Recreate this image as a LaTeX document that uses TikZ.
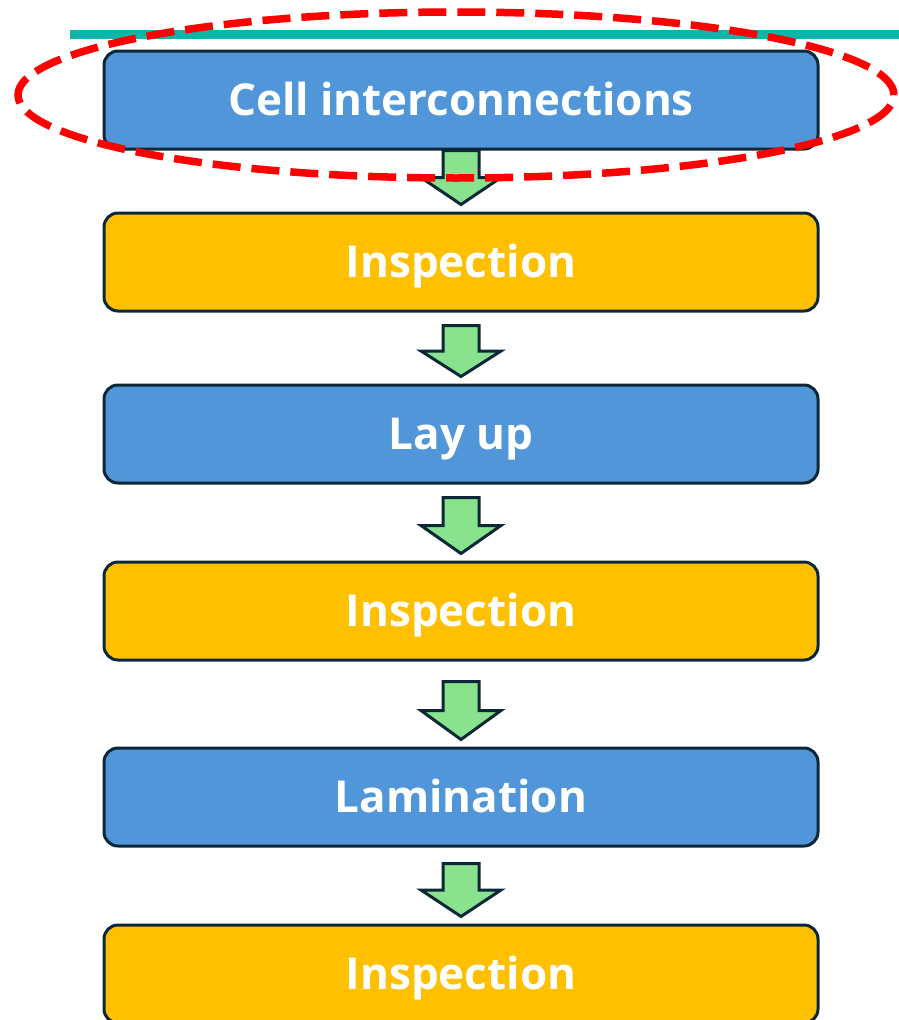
\documentclass[tikz,border=0pt]{standalone}
\usepackage{fontspec}
\setmainfont{Open Sans}
\usetikzlibrary{calc,shapes.geometric}
\definecolor{boxblue}{HTML}{5096D9}
\definecolor{boxorange}{HTML}{FFC000}
\definecolor{arrgreen}{HTML}{88E28E}
\definecolor{edgenavy}{HTML}{0C2838}
\definecolor{tealline}{HTML}{0BB5A8}
\definecolor{ringred}{HTML}{FF0000}
\tikzset{
  stepbox/.style={draw=edgenavy, line width=3pt, rounded corners=14pt,
    minimum width=714pt, minimum height=98pt, inner sep=0pt,
    text height=31.5pt, text depth=0pt,
    text=white, font=\fontsize{44}{52}\selectfont\bfseries},
  bluebox/.style={stepbox, fill=boxblue},
  orangebox/.style={stepbox, fill=boxorange},
  flowarrow/.style={draw=edgenavy, fill=arrgreen, line width=3pt, line join=miter},
}
\newcommand{\flowarr}[3]{% from node, to node, top gap
  \path let \p1=(#1.south), \p2=(#2.north) in
    coordinate (t) at (\x1,\y1-#3pt) coordinate (e) at (\x2,\y2+7pt);
  \draw[flowarrow] let \p1=(t), \p2=(e), \n1={\y1-(\y1-\y2)*0.5} in
    (\x1-18pt,\y1) -- (\x1+18pt,\y1) -- (\x1+18pt,\n1) -- (\x1+40pt,\n1)
    -- (\x2,\y2) -- (\x1-40pt,\n1) -- (\x1-18pt,\n1) -- cycle;
}
\begin{document}
\begin{tikzpicture}[x=1pt,y=-1pt]
\useasboundingbox (0,0) rectangle (899,1020);
\fill[tealline] (70,30) rectangle (899,39);
\node[bluebox]   (b1) at (461,100) {Cell interconnections};
\node[orangebox] (b2) at (461,262) {Inspection};
\node[bluebox]   (b3) at (461,434) {Lay up};
\node[orangebox] (b4) at (461,611) {Inspection};
\node[bluebox]   (b5) at (461,797) {Lamination};
\node[orangebox] (b6) at (461,974) {Inspection};
\flowarr{b1}{b2}{0}
\flowarr{b2}{b3}{13}
\flowarr{b3}{b4}{13}
\flowarr{b4}{b5}{20}
\flowarr{b5}{b6}{16}
\node[draw=ringred, line width=7.5pt, dash pattern=on 28pt off 11pt, ellipse,
  minimum width=876pt, minimum height=166pt, inner sep=0pt] (ring) at (456,95) {};
\end{tikzpicture}
\end{document}
